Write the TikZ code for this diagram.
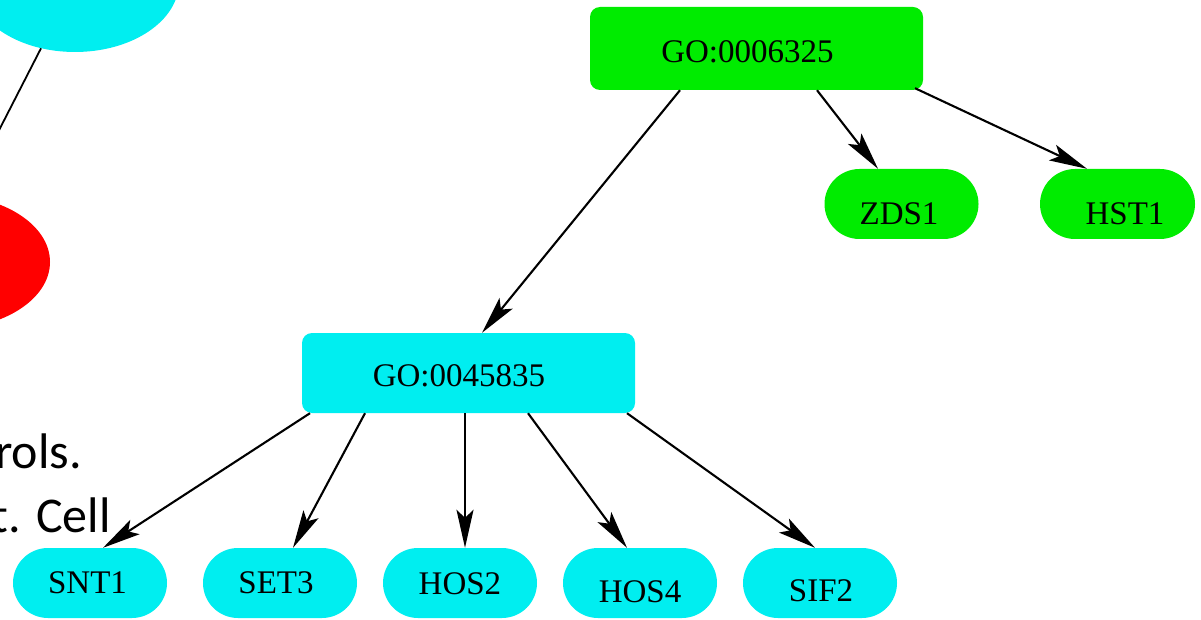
\documentclass[tikz,border=0pt]{standalone}
\usepackage{fontspec}
\setmainfont{Liberation Serif}
\newfontfamily\slidefont{Carlito}
\usetikzlibrary{arrows.meta,shapes.misc,shapes.geometric}

\definecolor{gogreen}{RGB}{0,236,0}
\definecolor{gocyan}{RGB}{0,238,240}

\begin{document}
\begin{tikzpicture}[x=1pt,y=-1pt,
  gobox/.style={rectangle, rounded corners=10pt, minimum width=333pt, inner sep=0pt},
  gene/.style={rounded rectangle, minimum width=154pt, minimum height=70pt, inner sep=0pt},
  txt/.style={font=\fontsize{33}{39}\selectfont, inner sep=0pt, text=black},
  edge/.style={line width=2.1pt, -{Stealth[length=38pt,width=17pt,inset=8pt]}},
  slide/.style={anchor=base east, inner sep=0pt, font=\slidefont\fontsize{50}{60}\selectfont},
]
\useasboundingbox (0,0) rectangle (1201,620);
\clip (0,0) rectangle (1201,620);
\fill[white] (0,0) rectangle (1201,620);

% neighbouring graph, partly outside the frame
\node[ellipse, fill=gocyan, minimum width=208pt, minimum height=140pt, inner sep=0pt] (ctop) at (75,-18) {};
\coordinate (cend) at (-6,140);
\draw[line width=1.8pt] (ctop) -- (cend);
\node[ellipse, fill=red, minimum width=208pt, minimum height=134pt, inner sep=0pt] (rnode) at (-54,262) {};

% slide text behind the graph
\node[slide] (s1) at (82,468) {rols.};
\node[slide] (s2) at (111,532) {t. Cell};

% GO terms
\node[gobox, fill=gogreen, minimum height=83pt,
      label={[txt, xshift=-9pt, yshift=-3.5pt]center:GO:0006325}] (go1) at (756.5,48.5) {};
\node[gobox, fill=gocyan, minimum height=80pt,
      label={[txt, xshift=-9.5pt, yshift=-3pt]center:GO:0045835}] (go2) at (468.5,373) {};

% genes
\node[gene, fill=gogreen, label={[txt, xshift=-2.5pt, yshift=-10pt]center:ZDS1}] (zds1) at (901.5,204) {};
\node[gene, fill=gogreen, minimum width=155pt, label={[txt, xshift=7.5pt, yshift=-10pt]center:HST1}] (hst1) at (1117.5,204) {};
\node[gene, fill=gocyan, label={[txt, xshift=-2.5pt]center:SNT1}] (snt1) at (90,583) {};
\node[gene, fill=gocyan, label={[txt, xshift=-4pt]center:SET3}] (set3) at (280,583) {};
\node[gene, fill=gocyan, label={[txt, yshift=-1pt]center:HOS2}] (hos2) at (460,583) {};
\node[gene, fill=gocyan, label={[txt, yshift=-9pt]center:HOS4}] (hos4) at (640,583) {};
\node[gene, fill=gocyan, label={[txt, xshift=1pt, yshift=-8pt]center:SIF2}] (sif2) at (820,583) {};

% edges
\draw[edge] ([xshift=-76.5pt]go1.south) -- ([xshift=13.5pt]go2.north);
\draw[edge] ([xshift=60.5pt]go1.south) -- ([xshift=-23.5pt]zds1.north);
\draw[edge] ([xshift=158.5pt,yshift=2pt]go1.south) -- ([xshift=-30.5pt]hst1.north);
\draw[edge] ([xshift=-158.5pt]go2.south) -- ([xshift=13pt]snt1.north);
\draw[edge] ([xshift=-103.5pt]go2.south) -- ([xshift=13pt]set3.north);
\draw[edge] ([xshift=-3.5pt]go2.south) -- ([xshift=5pt]hos2.north);
\draw[edge] ([xshift=59.5pt]go2.south) -- ([xshift=-13pt]hos4.north);
\draw[edge] ([xshift=158.5pt]go2.south) -- ([xshift=-5pt]sif2.north);
\end{tikzpicture}
\end{document}
